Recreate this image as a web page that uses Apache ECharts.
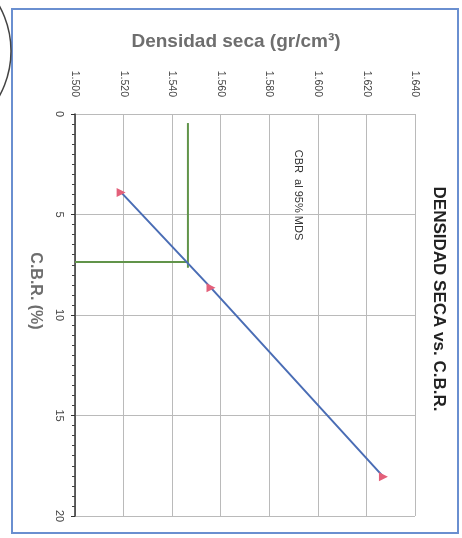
<!DOCTYPE html>
<html>
<head>
<meta charset="utf-8">
<script src="https://cdn.jsdelivr.net/npm/echarts@6/dist/echarts.min.js"></script>
<style>
  html, body { margin: 0; padding: 0; background: #ffffff; }
  #chart { width: 462px; height: 538px; }
</style>
</head>
<body>
<div id="chart"></div>
<script>
// Ensayo CBR: densidad seca de cada probeta y su CBR
const densidadSeca = [1.519, 1.556, 1.627];   // gr/cm3
const cbr = [3.9, 8.65, 18.05];               // %

// Líneas de lectura al 95% de la MDS
const densidad95 = 1.5465;
const cbr95 = 7.36;
const lecturaVertical = [[densidad95, 0.45], [densidad95, 7.65]];
const lecturaHorizontal = [[1.5, cbr95], [densidad95, cbr95]];

// Escalas de los ejes
const densidadTicks = [1.500, 1.520, 1.540, 1.560, 1.580, 1.600, 1.620, 1.640];
const cbrTicks = [0, 5, 10, 15, 20];

const puntos = densidadSeca.map((d, i) => [d, cbr[i]]);

const FONT = '"Liberation Sans", Arial, sans-serif';
const chart = echarts.init(document.getElementById('chart'), null, { renderer: 'canvas' });

chart.setOption({
  backgroundColor: '#ffffff',
  animation: false,
  grid: { left: 75, right: 47, top: 114, bottom: 22, containLabel: false },
  xAxis: {
    type: 'value',
    position: 'top',
    min: densidadTicks[0],
    max: densidadTicks[densidadTicks.length - 1],
    interval: densidadTicks[1] - densidadTicks[0],
    axisLine: { show: false },
    axisTick: { show: false },
    axisLabel: {
      rotate: -90,
      margin: 17,
      fontFamily: FONT,
      fontSize: 10.5,
      color: '#444',
      formatter: v => v.toFixed(3)
    },
    splitLine: { show: true, lineStyle: { color: '#bababa', width: 1 } }
  },
  yAxis: {
    type: 'value',
    inverse: true,
    min: cbrTicks[0],
    max: cbrTicks[cbrTicks.length - 1],
    interval: cbrTicks[1] - cbrTicks[0],
    axisLine: { show: true, onZero: false, lineStyle: { color: '#333', width: 1.5 } },
    axisTick: { show: true, length: 4, lineStyle: { color: '#333' } },
    minorTick: { show: true, splitNumber: 10, length: 3, lineStyle: { color: '#444' } },
    axisLabel: {
      rotate: -90,
      margin: 10,
      fontFamily: FONT,
      fontSize: 11,
      color: '#444'
    },
    splitLine: { show: true, lineStyle: { color: '#bababa', width: 1 } }
  },
  series: [
    {
      name: 'lectura vertical',
      type: 'line',
      data: lecturaVertical,
      showSymbol: false,
      lineStyle: { color: '#61944a', width: 2 },
      z: 2
    },
    {
      name: 'lectura horizontal',
      type: 'line',
      data: lecturaHorizontal,
      showSymbol: false,
      lineStyle: { color: '#61944a', width: 2 },
      z: 2
    },
    {
      name: 'Densidad seca vs CBR',
      type: 'line',
      data: puntos,
      symbol: 'triangle',
      symbolSize: 9,
      symbolRotate: -90,
      showAllSymbol: true,
      lineStyle: { color: '#4a6db5', width: 2 },
      itemStyle: { color: '#e3607a' },
      z: 3
    }
  ],
  graphic: [
    // marco del gráfico
    {
      type: 'rect',
      shape: { x: 12, y: 9, width: 446, height: 524 },
      style: { fill: 'none', stroke: '#6a8fd0', lineWidth: 2 },
      z: 10
    },
    // sello
    {
      type: 'circle',
      shape: { cx: -82, cy: 51, r: 93 },
      style: { fill: 'none', stroke: '#444', lineWidth: 1.5 },
      z: 10
    },
    {
      type: 'text',
      x: 236, y: 42,
      style: {
        text: 'Densidad seca (gr/cm³)',
        font: 'bold 19px ' + FONT,
        fill: '#6e6e6e',
        align: 'center',
        verticalAlign: 'middle'
      },
      z: 10
    },
    {
      type: 'text',
      x: 35, y: 291,
      rotation: -Math.PI / 2,
      style: {
        text: 'C.B.R. (%)',
        font: 'bold 16px ' + FONT,
        fill: '#6e6e6e',
        align: 'center',
        verticalAlign: 'middle'
      },
      z: 10
    },
    {
      type: 'text',
      x: 298, y: 195,
      rotation: -Math.PI / 2,
      style: {
        text: 'CBR  al 95% MDS',
        font: '11px ' + FONT,
        fill: '#333',
        align: 'center',
        verticalAlign: 'middle'
      },
      z: 10
    },
    {
      type: 'text',
      x: 439, y: 299,
      rotation: -Math.PI / 2,
      style: {
        text: 'DENSIDAD SECA vs. C.B.R.',
        font: 'bold 17px ' + FONT,
        fill: '#222',
        align: 'center',
        verticalAlign: 'middle'
      },
      z: 10
    }
  ]
});
</script>
</body>
</html>
